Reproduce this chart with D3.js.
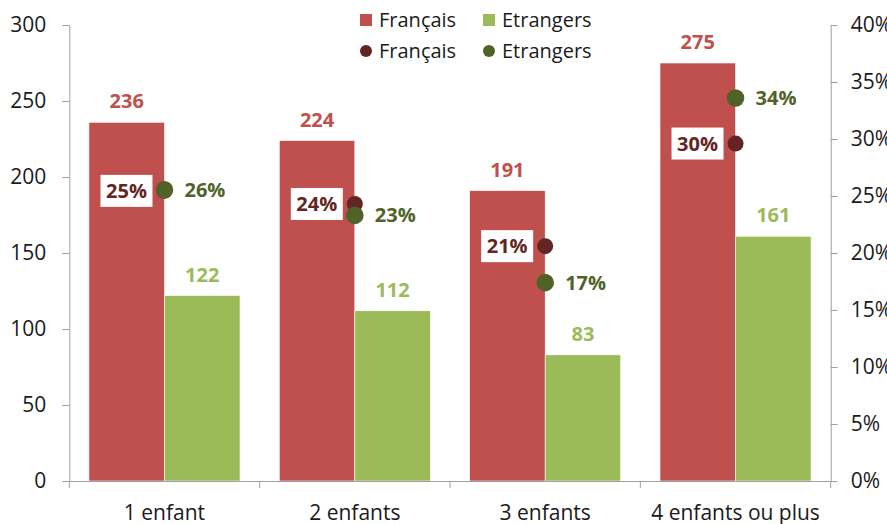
<!DOCTYPE html>
<html>
<head>
<meta charset="UTF-8">
<title>Enfants - Français / Etrangers</title>
<script src="https://cdn.jsdelivr.net/npm/d3@7"></script>
<style>
  body { margin: 0; background: #fff; }
  text { font-family: "Open Sans", sans-serif; }
</style>
</head>
<body>
<script>
// données
var categories = ["1 enfant", "2 enfants", "3 enfants", "4 enfants ou plus"];
var francais = [236, 224, 191, 275];
var etrangers = [122, 112, 83, 161];
var pctFrancais = [0.2545, 0.243, 0.206, 0.296];
var pctEtrangers = [0.2555, 0.233, 0.174, 0.336];
var leftTicks = [0, 50, 100, 150, 200, 250, 300];
var rightTicks = [0, 0.05, 0.1, 0.15, 0.2, 0.25, 0.3, 0.35, 0.4];

var W = 887, H = 524;
var mLeft = 69.3, mRight = 830.7, mTop = 25, mBottom = 481;

var cRed = "#C0504D", cGreen = "#9BBB59", cDarkRed = "#632523", cDarkGreen = "#4F6228";

var svg = d3.select("body").append("svg")
  .attr("width", W)
  .attr("height", H);

var x0 = d3.scaleBand().domain(categories).range([mLeft, mRight]).padding(0);
var x1 = d3.scaleBand().domain(["fr", "et"]).range([0, x0.bandwidth()]).paddingInner(0).paddingOuter(0.26);
var y = d3.scaleLinear().domain([0, 300]).range([mBottom, mTop]);
var y2 = d3.scaleLinear().domain([0, 0.4]).range([mBottom, mTop]);

var rows = categories.map(function (c, i) {
  return { cat: c, fr: francais[i], et: etrangers[i], pfr: pctFrancais[i], pet: pctEtrangers[i] };
});

// axes
function styleAxis(g) {
  g.selectAll("path, line").attr("stroke", "#A0A0A0").attr("stroke-width", 1);
  g.selectAll("text").attr("fill", "#1a1a1a").style("font-size", "21px").style("font-family", "'Open Sans', sans-serif");
}

svg.append("g")
  .attr("transform", "translate(" + mLeft + ",0)")
  .call(d3.axisLeft(y).tickValues(leftTicks).tickSize(7).tickSizeOuter(0).tickPadding(16))
  .call(styleAxis);

svg.append("g")
  .attr("transform", "translate(" + mRight + ",0)")
  .call(d3.axisRight(y2).tickValues(rightTicks).tickSize(7).tickSizeOuter(0).tickPadding(13).tickFormat(d3.format(".0%")))
  .call(styleAxis)
  .selectAll("text").attr("text-anchor", "start");

// barres
var groups = svg.append("g").selectAll("g")
  .data(rows)
  .join("g")
  .attr("transform", function (d) { return "translate(" + x0(d.cat) + ",0)"; });

groups.append("rect")
  .attr("x", x1("fr")).attr("width", x1.bandwidth())
  .attr("y", function (d) { return y(d.fr); })
  .attr("height", function (d) { return y(0) - y(d.fr); })
  .attr("fill", cRed).attr("stroke", "#fff").attr("stroke-width", 0.6);

groups.append("rect")
  .attr("x", x1("et")).attr("width", x1.bandwidth())
  .attr("y", function (d) { return y(d.et); })
  .attr("height", function (d) { return y(0) - y(d.et); })
  .attr("fill", cGreen).attr("stroke", "#fff").attr("stroke-width", 0.6);

// axe x (par-dessus les barres)
var xAxis = svg.append("g")
  .attr("transform", "translate(0," + mBottom + ")")
  .call(d3.axisBottom(x0).tickSize(0).tickSizeOuter(0).tickPadding(24))
  .call(styleAxis);
xAxis.selectAll(".bound")
  .data(categories.concat(["end"]))
  .join("line")
  .attr("class", "bound")
  .attr("x1", function (d, i) { return mLeft + i * x0.step(); })
  .attr("x2", function (d, i) { return mLeft + i * x0.step(); })
  .attr("y1", 0).attr("y2", 7)
  .attr("stroke", "#A0A0A0");

// étiquettes des barres
groups.append("text")
  .attr("x", x1("fr") + x1.bandwidth() / 2)
  .attr("y", function (d) { return y(d.fr) - 14; })
  .attr("text-anchor", "middle")
  .attr("fill", cRed).style("font-size", "20px").style("font-weight", "bold")
  .text(function (d) { return d.fr; });

groups.append("text")
  .attr("x", x1("et") + x1.bandwidth() / 2)
  .attr("y", function (d) { return y(d.et) - 14; })
  .attr("text-anchor", "middle")
  .attr("fill", cGreen).style("font-size", "20px").style("font-weight", "bold")
  .text(function (d) { return d.et; });

// points (axe secondaire)
var cx = x0.bandwidth() / 2;
groups.append("circle")
  .attr("cx", cx).attr("cy", function (d) { return y2(d.pfr); })
  .attr("r", 8).attr("fill", cDarkRed);
groups.append("circle")
  .attr("cx", cx).attr("cy", function (d) { return y2(d.pet); })
  .attr("r", 8.8).attr("fill", cDarkGreen);

// étiquettes des points
var fmt = function (v) { return Math.round(v * 100) + "%"; };
groups.append("rect")
  .attr("x", cx - 64).attr("y", function (d) { return y2(d.pfr) - 16; })
  .attr("width", 52).attr("height", 32)
  .attr("fill", "#fff");
groups.append("text")
  .attr("x", cx - 38).attr("y", function (d) { return y2(d.pfr) + 7; })
  .attr("text-anchor", "middle")
  .attr("fill", cDarkRed).style("font-size", "20px").style("font-weight", "bold")
  .text(function (d) { return fmt(d.pfr); });
groups.append("text")
  .attr("x", cx + 20).attr("y", function (d) { return y2(d.pet) + 7; })
  .attr("fill", cDarkGreen).style("font-size", "20px").style("font-weight", "bold")
  .text(function (d) { return fmt(d.pet); });

// légende
var legend = [
  { label: "Français", color: cRed, shape: "rect", x: 360, y: 20 },
  { label: "Etrangers", color: cGreen, shape: "rect", x: 483, y: 20 },
  { label: "Français", color: cDarkRed, shape: "circle", x: 360, y: 51 },
  { label: "Etrangers", color: cDarkGreen, shape: "circle", x: 483, y: 51 }
];
var lg = svg.append("g").selectAll("g").data(legend).join("g")
  .attr("transform", function (d) { return "translate(" + d.x + "," + d.y + ")"; });
lg.filter(function (d) { return d.shape === "rect"; }).append("rect")
  .attr("x", 0).attr("y", -6).attr("width", 12).attr("height", 12)
  .attr("fill", function (d) { return d.color; });
lg.filter(function (d) { return d.shape === "circle"; }).append("circle")
  .attr("cx", 6).attr("cy", 0).attr("r", 6)
  .attr("fill", function (d) { return d.color; });
lg.append("text")
  .attr("x", 19).attr("y", 7)
  .attr("fill", "#1a1a1a").style("font-size", "20px")
  .text(function (d) { return d.label; });
</script>
</body>
</html>
